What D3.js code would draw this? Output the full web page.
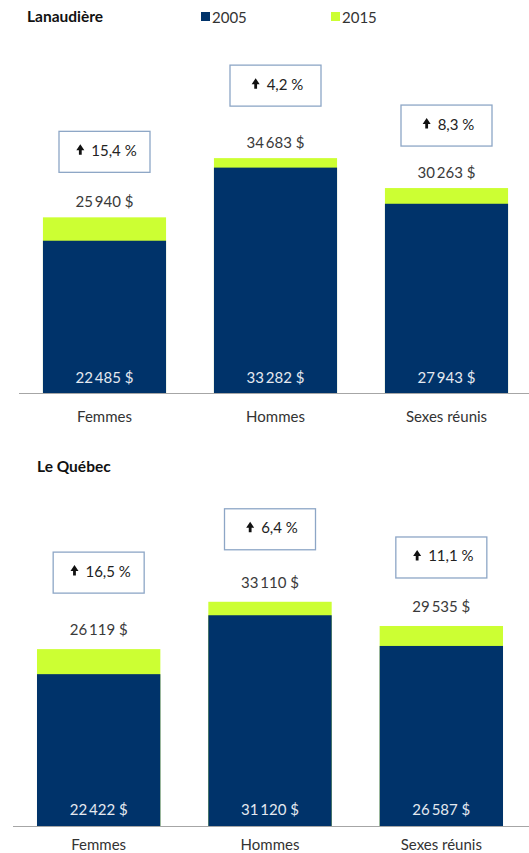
<!DOCTYPE html>
<html><head><meta charset="utf-8">
<script src="https://cdn.jsdelivr.net/npm/d3@7"></script>
<style>
html,body{margin:0;padding:0;background:#fff;}
svg{display:block;}
</style></head>
<body>
<script>
// ---- data ----
const categories = ["Femmes", "Hommes", "Sexes réunis"];
const seriesNames = ["2005", "2015"];
const panelTitles = ["Lanaudière", "Le Québec"];
const lanaudiere2005 = [22485, 33282, 27943];
const lanaudiere2015 = [25940, 34683, 30263];
const lanaudiereGrowth = ["15,4 %", "4,2 %", "8,3 %"];
const quebec2005 = [22422, 31120, 26587];
const quebec2015 = [26119, 33110, 29535];
const quebecGrowth = ["16,5 %", "6,4 %", "11,1 %"];

const fmt = v => d3.format(",")(v).replace(/,/g, "\u2009") + " $";

// ---- layout ----
const W = 529, H = 853;
const NAVY = "#00336a", GREEN = "#ccff33";
const FONT = "Lato, 'Open Sans', sans-serif";
const FS = 15;
const svg = d3.select("body").append("svg").attr("width", W).attr("height", H);

// legend
const legend = svg.append("g").attr("font-family", FONT).attr("font-size", FS).attr("fill", "#333");
[[NAVY, 201], [GREEN, 331]].forEach(([c, x], i) => {
  legend.append("rect").attr("x", x).attr("y", 12).attr("width", 9).attr("height", 9).attr("fill", c);
  legend.append("text").attr("x", x + 11).attr("y", 17).attr("dominant-baseline", "central").text(seriesNames[i]);
});

const panels = [
  {title: panelTitles[0], v05: lanaudiere2005, v15: lanaudiere2015, growth: lanaudiereGrowth,
   base: 393, x0: 19, x1: 532, titleX: 27, titleY: 16, labelGap: 16, innerGap: 16, catY: 416,
   boxGap: [29, 36, 26]},
  {title: panelTitles[1], v05: quebec2005, v15: quebec2015, growth: quebecGrowth,
   base: 826, x0: 13, x1: 527, titleX: 37, titleY: 466, labelGap: 20, innerGap: 17, catY: 844,
   boxGap: [36, 32, 28]}
];

panels.forEach(p => {
  const g = svg.append("g");
  const x = d3.scaleBand().domain(categories).range([p.x0, p.x1]).paddingInner(0.28).paddingOuter(0.14);
  const y = d3.scaleLinear().domain([0, 40000]).range([p.base, p.base - 0.006772 * 40000]);

  g.append("text").attr("x", p.titleX).attr("y", p.titleY).attr("dominant-baseline", "central")
    .attr("font-family", FONT).attr("font-weight", "bold").attr("font-size", 15.5).attr("fill", "#111")
    .text(p.title);

  // 2015 bars (full) then 2005 bars on top
  g.selectAll(".b15").data(categories).enter().append("rect")
    .attr("x", d => x(d)).attr("width", x.bandwidth())
    .attr("y", (d, i) => y(p.v15[i])).attr("height", (d, i) => p.base - y(p.v15[i]))
    .attr("fill", GREEN);
  g.selectAll(".b05").data(categories).enter().append("rect")
    .attr("x", d => x(d)).attr("width", x.bandwidth())
    .attr("y", (d, i) => y(p.v05[i])).attr("height", (d, i) => p.base - y(p.v05[i]))
    .attr("fill", NAVY);

  // baseline axis
  const axis = d3.axisBottom(x).tickSize(0).tickPadding(0);
  const ag = g.append("g").attr("transform", `translate(0,${p.base})`).call(axis);
  ag.select(".domain").attr("d", `M${p.x0},0.5H${W}`).attr("stroke", "#a6a6a6");
  ag.selectAll("text").attr("y", p.catY - p.base).attr("dy", null).attr("dominant-baseline", "central")
    .attr("font-family", FONT).attr("font-size", FS).attr("fill", "#333");

  // value labels
  g.selectAll(".l15").data(categories).enter().append("text")
    .attr("x", d => x(d) + x.bandwidth() / 2).attr("y", (d, i) => y(p.v15[i]) - p.labelGap)
    .attr("text-anchor", "middle").attr("dominant-baseline", "central")
    .attr("font-family", FONT).attr("font-size", FS).attr("fill", "#3a3a3a")
    .text((d, i) => fmt(p.v15[i]));
  g.selectAll(".l05").data(categories).enter().append("text")
    .attr("x", d => x(d) + x.bandwidth() / 2).attr("y", p.base - p.innerGap)
    .attr("text-anchor", "middle").attr("dominant-baseline", "central")
    .attr("font-family", FONT).attr("font-size", FS).attr("fill", "#e4e9f0")
    .text((d, i) => fmt(p.v05[i]));

  // growth boxes
  categories.forEach((d, i) => {
    const cx = x(d) + x.bandwidth() / 2;
    const bw = 91, bh = 41;
    const bottom = y(p.v15[i]) - p.labelGap - p.boxGap[i];
    const top = bottom - bh;
    const bg = g.append("g");
    bg.append("rect").attr("x", cx - bw / 2).attr("y", top).attr("width", bw).attr("height", bh)
      .attr("fill", "#fff").attr("stroke", "#8da6c6").attr("stroke-width", 1.3);
    const ty = top + 18.5;
    const t = bg.append("text").attr("y", ty).attr("dominant-baseline", "central")
      .attr("font-family", FONT).attr("font-size", FS).attr("fill", "#222").text(p.growth[i]);
    const tw = t.node().getComputedTextLength();
    const arrowW = 8, gap = 7;
    const total = arrowW + gap + tw;
    const sx = cx - total / 2 + 2;
    t.attr("x", sx + arrowW + gap);
    const ax = sx + arrowW / 2;
    bg.append("path")
      .attr("d", `M${ax},${ty - 5.5}L${ax + 4},${ty + 0.5}L${ax + 1.4},${ty + 0.5}L${ax + 1.4},${ty + 5}L${ax - 1.4},${ty + 5}L${ax - 1.4},${ty + 0.5}L${ax - 4},${ty + 0.5}Z`)
      .attr("fill", "#111");
  });
});
</script>
</body></html>
